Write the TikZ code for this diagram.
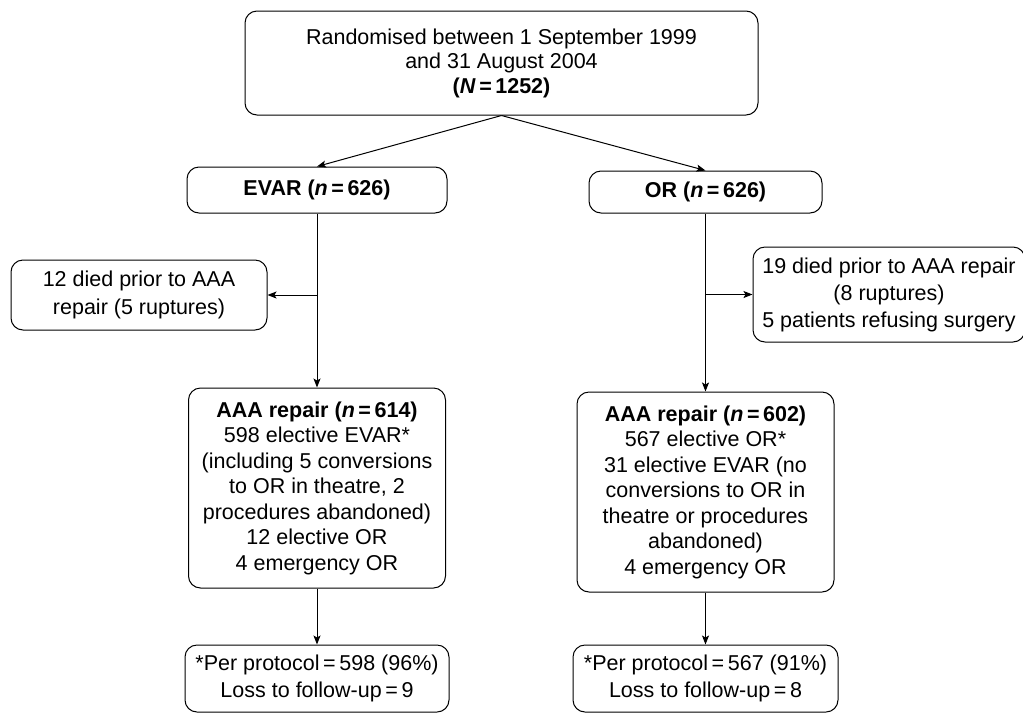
\documentclass[tikz,border=0pt]{standalone}
\usepackage{fontspec}
\setmainfont{Liberation Sans}
\usetikzlibrary{arrows.meta}
\begin{document}
\begin{tikzpicture}[x=1pt,y=-1pt,
  box/.style={draw, line width=1pt, rounded corners=12pt, align=center, inner sep=0pt,
    font=\fontsize{21.5}{25.5}\selectfont},
  arr/.style={line width=1pt, -{Stealth[length=9pt,width=7pt,inset=2pt]}}]
\useasboundingbox (0,0) rectangle (1023,713);
\node[box, minimum width=513pt, minimum height=104pt, font=\fontsize{21.5}{24.5}\selectfont] (top) at (501.5,63)
  {Randomised between 1 September 1999\\and 31 August 2004\\\textbf{(\textit{N}\,=\,1252)}};
\node[box, minimum width=260pt, minimum height=46pt] (evar) at (317,190)
  {\textbf{EVAR (\textit{n}\,=\,626)}};
\node[box, minimum width=233pt, minimum height=42pt] (or) at (705.5,192)
  {\textbf{OR (\textit{n}\,=\,626)}};
\node[box, minimum width=256pt, minimum height=70pt, font=\fontsize{21.5}{28}\selectfont] (diedL) at (139,295)
  {12 died prior to AAA\\repair (5 ruptures)};
\node[box, minimum width=272pt, minimum height=95pt, font=\fontsize{21.5}{27}\selectfont] (diedR) at (889,294.5)
  {19 died prior to AAA repair\\(8 ruptures)\\5 patients refusing surgery};
\node[box, minimum width=257pt, minimum height=200pt] (aaaL) at (317,488)
  {\textbf{AAA repair (\textit{n}\,=\,614)}\\598 elective EVAR*\\(including 5 conversions\\to OR in theatre, 2\\procedures abandoned)\\12 elective OR\\4 emergency OR};
\node[box, minimum width=257pt, minimum height=200pt] (aaaR) at (705.5,492)
  {\textbf{AAA repair (\textit{n}\,=\,602)}\\567 elective OR*\\31 elective EVAR (no\\conversions to OR in\\theatre or procedures\\abandoned)\\4 emergency OR};
\node[box, minimum width=264pt, minimum height=67pt, font=\fontsize{21.5}{26.5}\selectfont] (ppL) at (317,678.5)
  {*Per protocol\,=\,598 (96\%)\\Loss to follow-up\,=\,9};
\node[box, minimum width=265pt, minimum height=67pt, font=\fontsize{21.5}{26.5}\selectfont] (ppR) at (705.5,678.5)
  {*Per protocol\,=\,567 (91\%)\\Loss to follow-up\,=\,8};
\draw[arr] (top.south) -- (evar.north);
\draw[arr] (top.south) -- (or.north);
\draw[arr] (evar.south) -- (aaaL.north);
\draw[arr] (evar.south |- diedL.east) -- (diedL.east);
\draw[arr] (or.south) -- (aaaR.north);
\draw[arr] (or.south |- diedR.west) -- (diedR.west);
\draw[arr] (aaaL.south) -- (ppL.north);
\draw[arr] (aaaR.south) -- (ppR.north);
\end{tikzpicture}
\end{document}
